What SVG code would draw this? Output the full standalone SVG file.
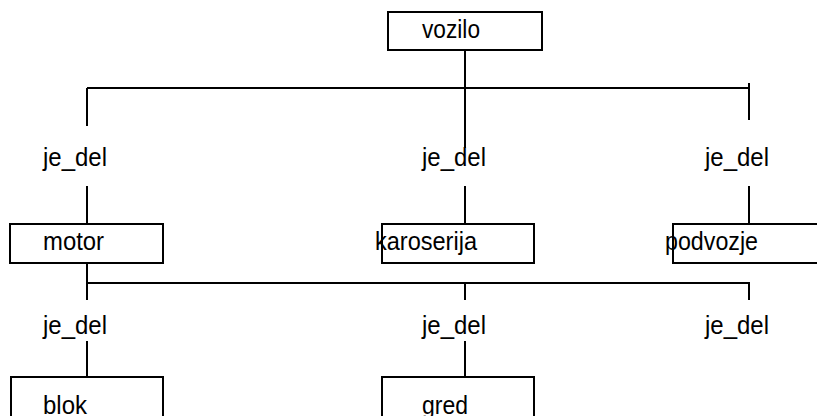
<svg xmlns="http://www.w3.org/2000/svg" width="817" height="416" viewBox="0 0 817 416">
<style>
.c{stroke:#000;stroke-width:2;fill:none}
.b{fill:#fff;stroke:#000;stroke-width:2}
.t{font-family:"Liberation Sans",Arial,sans-serif;font-size:26px;fill:#000}
</style>
<rect width="817" height="416" fill="#fff"/>
<g id="connectors">
<path class="c" d="M465 50V148M87 88H749M87 88V126M749 83V120M87 186V224M465 186V224M749 186V224"/>
<path class="c" d="M87 263V300M87 283H749V300M465 283V300M87 341V377M465 341V377"/>
</g>
<g id="labels">
<text class="t" x="43" y="166" textLength="64" lengthAdjust="spacingAndGlyphs">je_del</text>
<text class="t" x="422" y="166" textLength="64" lengthAdjust="spacingAndGlyphs">je_del</text>
<text class="t" x="705" y="166" textLength="64" lengthAdjust="spacingAndGlyphs">je_del</text>
<text class="t" x="43" y="334" textLength="64" lengthAdjust="spacingAndGlyphs">je_del</text>
<text class="t" x="422" y="334" textLength="64" lengthAdjust="spacingAndGlyphs">je_del</text>
<text class="t" x="705" y="334" textLength="64" lengthAdjust="spacingAndGlyphs">je_del</text>
</g>
<g id="vozilo"><rect class="b" x="388" y="12" width="154" height="38"/><text class="t" x="422" y="38" textLength="58" lengthAdjust="spacingAndGlyphs">vozilo</text></g>
<g id="motor"><rect class="b" x="10" y="224" width="153" height="39"/><text class="t" x="43" y="250" textLength="61" lengthAdjust="spacingAndGlyphs">motor</text></g>
<g id="karoserija"><rect class="b" x="382" y="224" width="152" height="39"/><text class="t" x="375" y="250" textLength="102" lengthAdjust="spacingAndGlyphs">karoserija</text></g>
<g id="podvozje"><rect class="b" x="673" y="224" width="160" height="39"/><text class="t" x="665" y="250" textLength="93" lengthAdjust="spacingAndGlyphs">podvozje</text></g>
<g id="blok"><rect class="b" x="11" y="377" width="152" height="60"/><text class="t" x="43" y="414" textLength="44" lengthAdjust="spacingAndGlyphs">blok</text></g>
<g id="gred"><rect class="b" x="382" y="377" width="152" height="60"/><text class="t" x="422" y="414" textLength="46" lengthAdjust="spacingAndGlyphs">gred</text></g>
</svg>
